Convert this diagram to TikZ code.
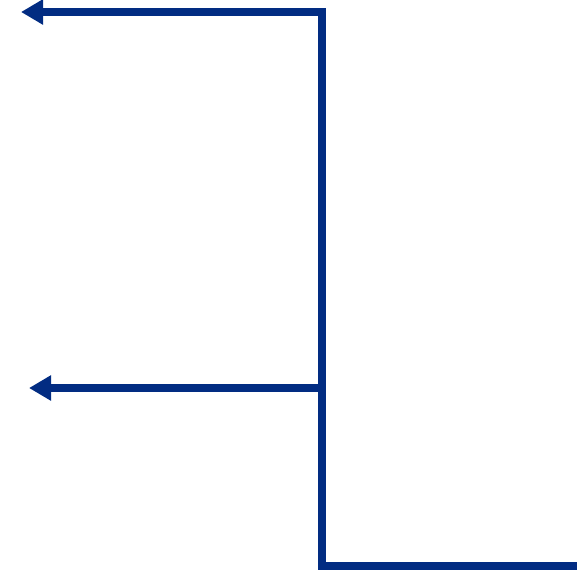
\documentclass[tikz,border=0pt]{standalone}
\usetikzlibrary{arrows.meta,positioning,calc}
\definecolor{wireblue}{RGB}{2,44,130}

\begin{document}
\begin{tikzpicture}[x=1pt, y=-1pt,
		wire/.style={draw=wireblue, line width=8pt, line join=miter},
		arr/.style={wire, {Triangle[length=22pt, width=24pt]}-}
		]
		\useasboundingbox (0,0) rectangle (577,570);
		
		% Corner points of the wire
		\coordinate (top)   at (322,12);
		\coordinate (tap)   at (322,388);
		\coordinate (foot)  at (322,566);
		\coordinate (out)   at (577,566);
		
		% Free ends on the left
		\coordinate (topend) at (21,12);
		\coordinate (tapend) at (29,388);
		
		% Wires
		\draw[arr] (topend) -- (top) -- (foot) -- (out);
		\draw[arr] (tapend) -- (tap);
	\end{tikzpicture}
\end{document}
